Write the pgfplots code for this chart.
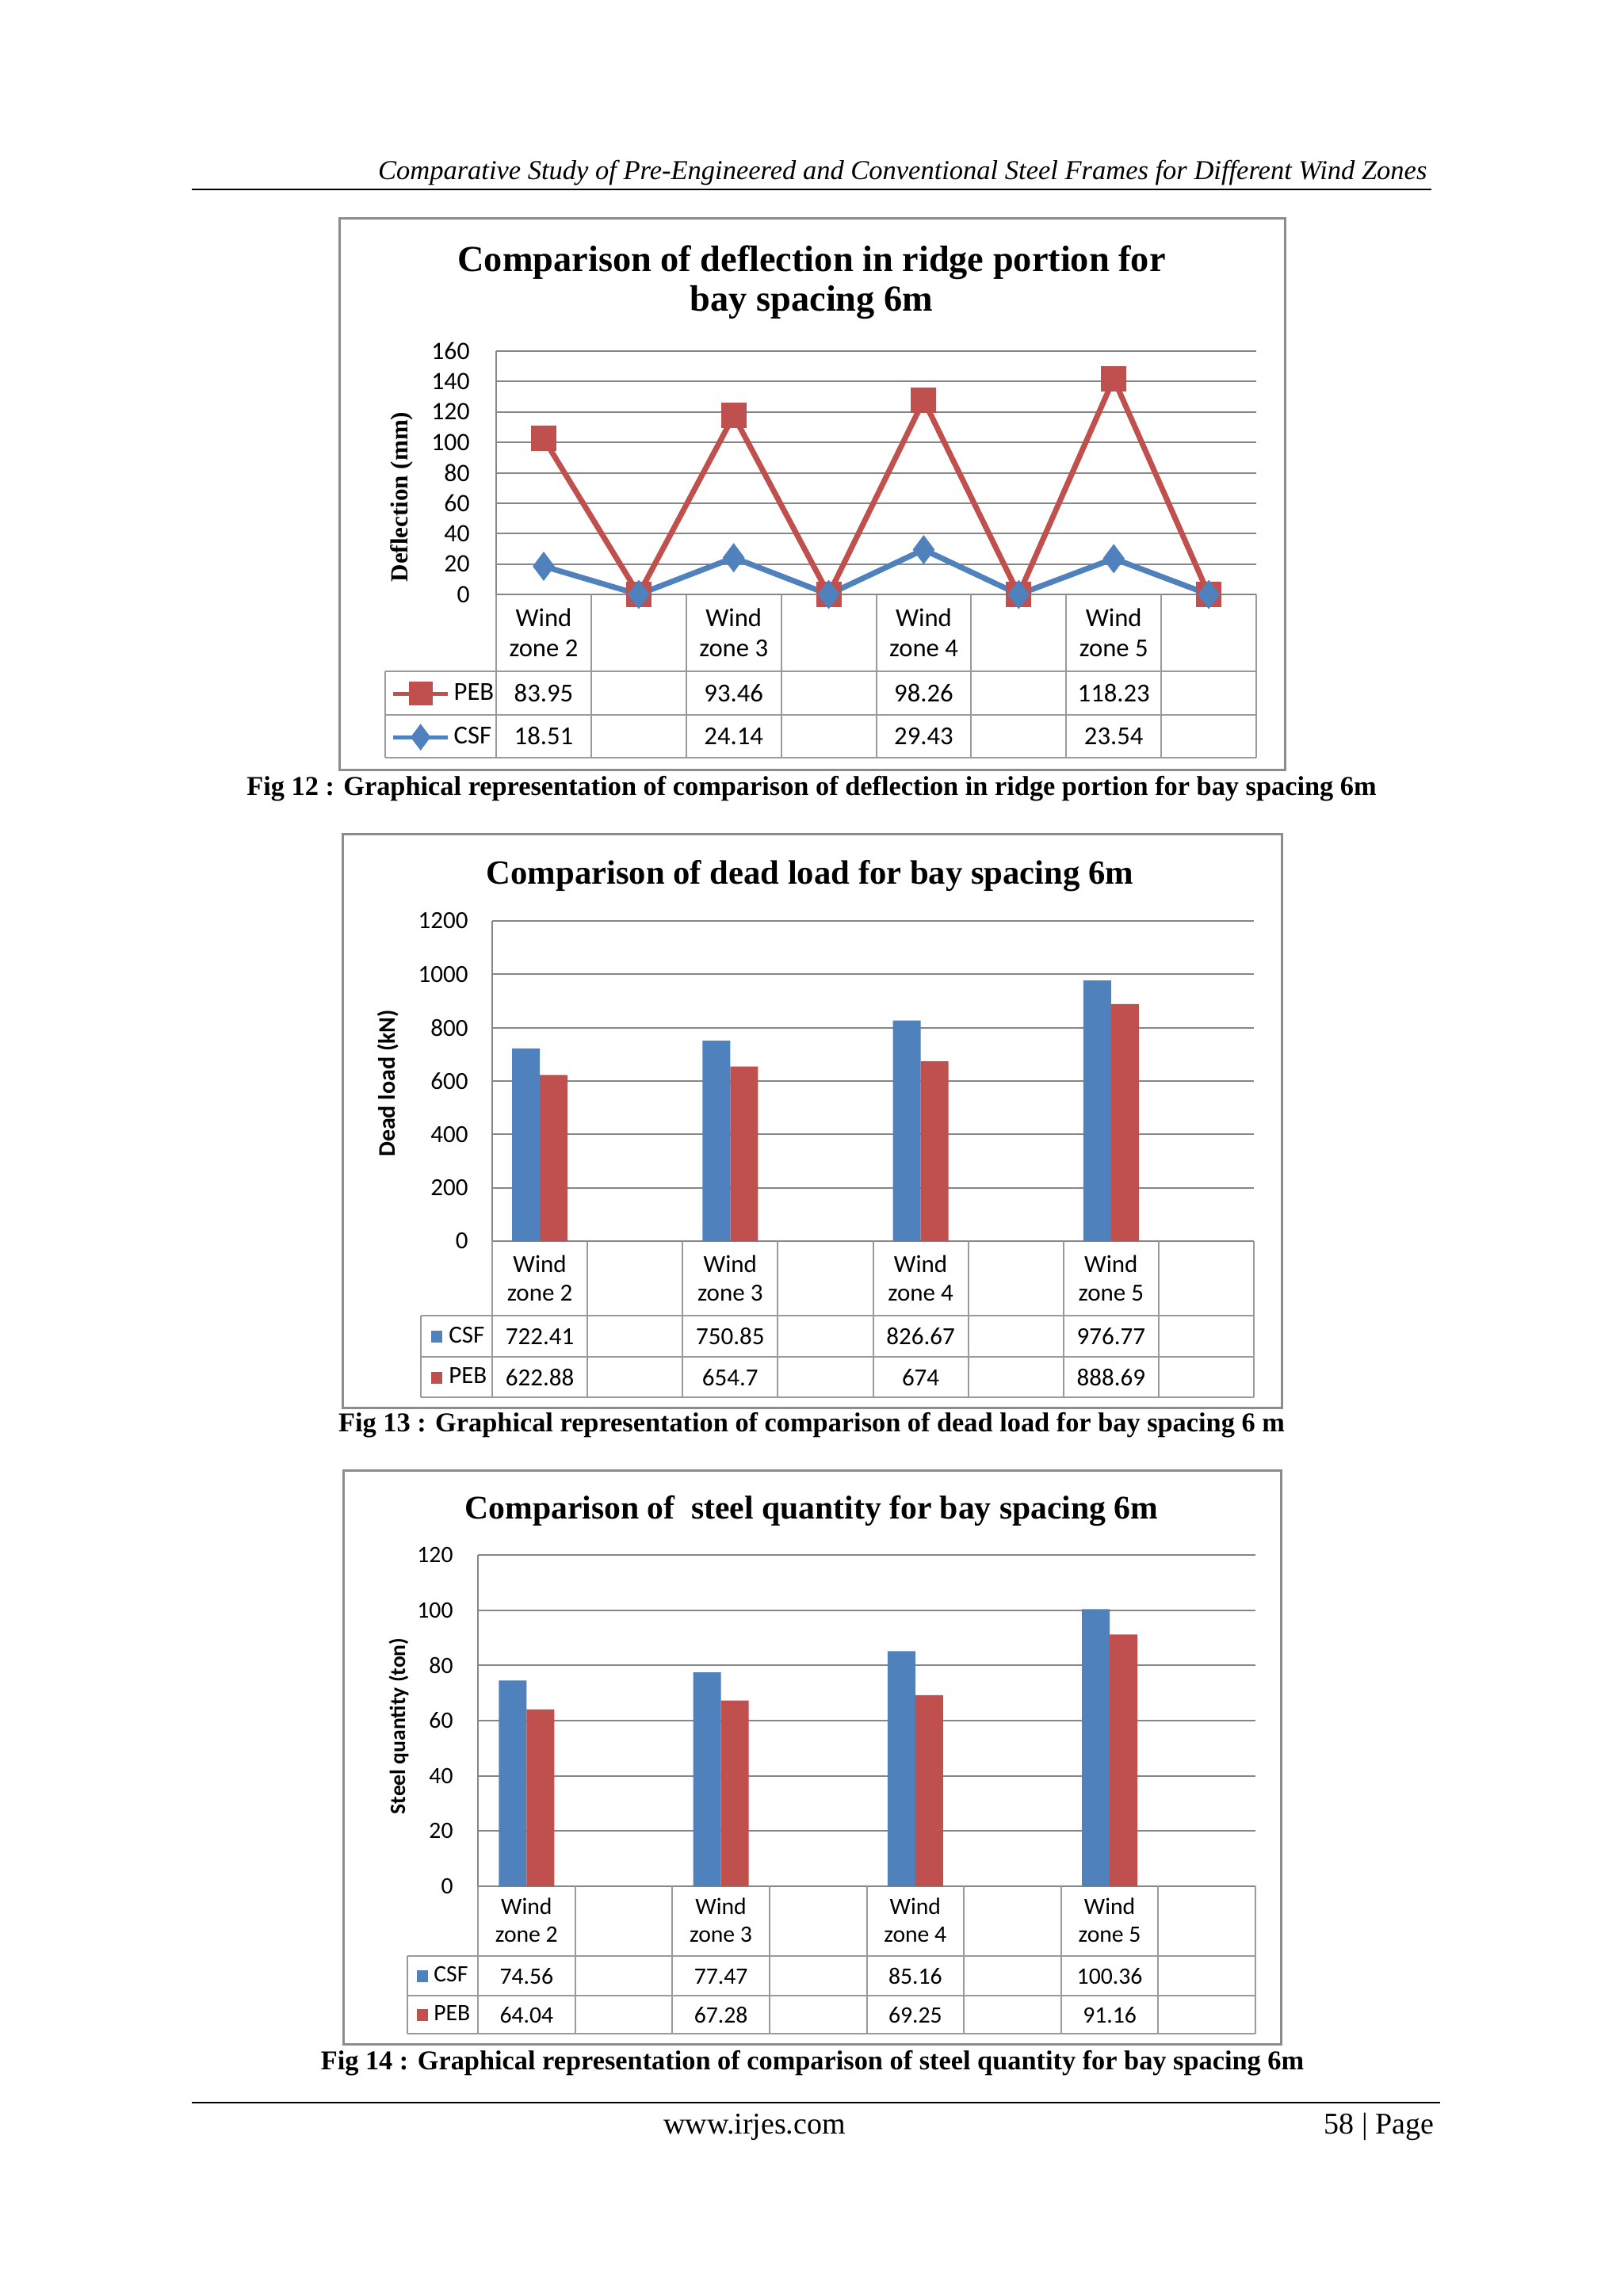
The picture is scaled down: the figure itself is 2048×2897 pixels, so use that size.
\documentclass[border=0pt]{standalone}
\usepackage{fontspec}
\setmainfont{Liberation Serif}
\newfontfamily\calibri{Carlito}
\usepackage{pgfplots}
\pgfplotsset{compat=1.18}
\definecolor{xlBlue}{HTML}{4F81BD}
\definecolor{xlRed}{HTML}{C0504D}
\definecolor{gridGray}{HTML}{868686}
\definecolor{boxGray}{HTML}{8C8C8C}
\definecolor{tabGray}{HTML}{9A9A9A}
\newcommand{\tabfontA}{\calibri\fontsize{9.8}{11}\selectfont}
\newcommand{\tabfontB}{\calibri\fontsize{9.3}{11}\selectfont}
\newcommand{\tabfontC}{\calibri\fontsize{8.9}{11}\selectfont}
\pgfplotsset{
  xlchart/.style={
    scale only axis, clip=false,
    xmin=-0.5, xmax=7.5, xtick=\empty,
    ymajorgrids, grid style={gridGray, line width=0.6pt},
    axis x line*=bottom, axis y line*=left,
    axis line style={gridGray, line width=0.6pt},
    major tick length=0pt,
    /pgf/number format/assume math mode=true,
    /pgf/number format/1000 sep={},
    legend style={draw=none, fill=none, inner sep=0pt, row sep=0pt, column sep=0pt,
      legend cell align=left},
  },
  barkey/.style={legend image code/.code={\fill[##1] (0pt,-2.2pt) rectangle (4.4pt,2.2pt);}},
}

\begin{document}
\begin{tikzpicture}[x=0.3pt,y=-0.3pt]
\path[use as bounding box, fill=white] (0,0) rectangle (2048,2897);

% running head
\node[anchor=base east, inner sep=0pt, font=\itshape\fontsize{10.35}{12}\selectfont] at (1801,227)
  {Comparative Study of Pre-Engineered and Conventional Steel Frames for Different Wind Zones};
\draw[line width=0.6pt] (242,239) -- (1806,239);

% ---------------- Fig 12 ----------------
\draw[boxGray, line width=0.9pt] (428,276) rectangle (1621,971);
\node[anchor=base, font=\bfseries\fontsize{13.9}{15}\selectfont] at (1024,343) {Comparison of deflection in ridge portion for};
\node[anchor=base, font=\bfseries\fontsize{13.9}{15}\selectfont] at (1024,393) {bay spacing 6m};
\node[rotate=90, font=\bfseries\fontsize{9.3}{11}\selectfont] at (507,627) {Deflection (mm)};
\coordinate (A) at (626,750);
\begin{axis}[xlchart, at={(A)}, anchor=south west, width=287.7pt, height=92.1pt,
  ymin=0, ymax=160, ytick={0,20,...,160}, yticklabel style={xshift=-6.5pt},
  tick label style={font=\calibri\fontsize{9.5}{11}\selectfont},
  stack plots=y, reverse legend,
  legend style={font=\tabfontA, at={(-0.1387,-0.316)}, anchor=north west, nodes={minimum height=16.5pt, inner sep=1.5pt}},
  legend image code/.code={\draw[mark repeat=2, mark phase=2, #1, line width=1.5pt]
    plot coordinates {(0pt,0pt) (10.35pt,0pt) (20.7pt,0pt)};}]
\addplot[xlBlue, line width=2.1pt, mark=diamond*, mark size=3.8pt, mark options={solid}]
  coordinates {(0,18.51) (1,0) (2,24.14) (3,0) (4,29.43) (5,0) (6,23.54) (7,0)};
\addplot[xlRed, line width=2.1pt, mark=square*, mark size=3.75pt, mark options={solid}]
  coordinates {(0,83.95) (1,0) (2,93.46) (3,0) (4,98.26) (5,0) (6,118.23) (7,0)};
\legend{CSF, PEB}
\end{axis}
\begin{scope}[tabGray, line width=0.6pt]
\foreach \i in {0,...,8} \draw ({626+\i*119.875},750) -- ({626+\i*119.875},956);
\foreach \yy in {847,902,956} \draw (486,\yy) -- (1585,\yy);
\draw (486,847) -- (486,956);
\end{scope}
\begin{scope}[every node/.style={anchor=base, font=\tabfontA, inner sep=0pt}]
\foreach \c/\z/\p/\s in {0/2/83.95/18.51, 2/3/93.46/24.14, 4/4/98.26/29.43, 6/5/118.23/23.54} {
  \node at ({626+(\c+0.5)*119.875},790) {Wind};
  \node at ({626+(\c+0.5)*119.875},828) {zone \z};
  \node at ({626+(\c+0.5)*119.875},885) {\p};
  \node at ({626+(\c+0.5)*119.875},939) {\s};
}
\end{scope}
\node[anchor=base, font=\bfseries\fontsize{10.3}{12}\selectfont] at (1024,1003)
  {Fig 12 : Graphical representation of comparison of deflection in ridge portion for bay spacing 6m};

% ---------------- Fig 13 ----------------
\draw[boxGray, line width=0.9pt] (432,1052) rectangle (1617,1776);
\node[anchor=base, font=\bfseries\fontsize{12.8}{15}\selectfont] at (1022,1115) {Comparison of dead load for bay spacing 6m};
\node[rotate=90, font=\calibri\bfseries\fontsize{9}{11}\selectfont] at (490,1367) {Dead load (kN)};
\coordinate (B) at (621,1566);
\begin{axis}[xlchart, at={(B)}, anchor=south west, width=288.3pt, height=121.2pt,
  ymin=0, ymax=1200, ytick={0,200,...,1200}, yticklabel style={xshift=-5.6pt},
  tick label style={font=\tabfontB},
  legend style={font=\tabfontB, at={(-0.0812,-0.2327)}, anchor=north west, nodes={minimum height=15.5pt, inner sep=2.4pt}}]
\addplot[ybar, bar width=10.5pt, bar shift=-5.25pt, fill=xlBlue, draw=none, barkey]
  coordinates {(0,722.41) (2,750.85) (4,826.67) (6,976.77)};
\addplot[ybar, bar width=10.5pt, bar shift=5.25pt, fill=xlRed, draw=none, barkey]
  coordinates {(0,622.88) (2,654.7) (4,674) (6,888.69)};
\legend{CSF, PEB}
\end{axis}
\begin{scope}[tabGray, line width=0.6pt]
\foreach \i in {0,...,8} \draw ({621+\i*120.125},1566) -- ({621+\i*120.125},1763);
\foreach \yy in {1660,1712,1763} \draw (531,\yy) -- (1582,\yy);
\draw (531,1660) -- (531,1763);
\end{scope}
\begin{scope}[every node/.style={anchor=base, font=\tabfontB, inner sep=0pt}]
\foreach \c/\z/\p/\s in {0/2/722.41/622.88, 2/3/750.85/654.7, 4/4/826.67/674, 6/5/976.77/888.69} {
  \node at ({621+(\c+0.5)*120.125},1605) {Wind};
  \node at ({621+(\c+0.5)*120.125},1641) {zone \z};
  \node at ({621+(\c+0.5)*120.125},1696) {\p};
  \node at ({621+(\c+0.5)*120.125},1748) {\s};
}
\end{scope}
\node[anchor=base, font=\bfseries\fontsize{10.3}{12}\selectfont] at (1024,1806)
  {Fig 13 : Graphical representation of comparison of dead load for bay spacing 6 m};

% ---------------- Fig 14 ----------------
\draw[boxGray, line width=0.9pt] (433,1855) rectangle (1616,2579);
\node[anchor=base, font=\bfseries\fontsize{12.5}{15}\selectfont] at (1024,1916) {Comparison of \ steel quantity for bay spacing 6m};
\node[rotate=90, font=\calibri\bfseries\fontsize{8.3}{10}\selectfont] at (503,2178) {Steel quantity (ton)};
\coordinate (C) at (603,2380);
\begin{axis}[xlchart, at={(C)}, anchor=south west, width=294.3pt, height=125.4pt,
  ymin=0, ymax=120, ytick={0,20,...,120}, yticklabel style={xshift=-5.9pt},
  tick label style={font=\tabfontC},
  legend style={font=\tabfontC, at={(-0.0795,-0.2105)}, anchor=north west, nodes={minimum height=14.7pt, inner sep=2.1pt}}]
\addplot[ybar, bar width=10.5pt, bar shift=-5.25pt, fill=xlBlue, draw=none, barkey]
  coordinates {(0,74.56) (2,77.47) (4,85.16) (6,100.36)};
\addplot[ybar, bar width=10.5pt, bar shift=5.25pt, fill=xlRed, draw=none, barkey]
  coordinates {(0,64.04) (2,67.28) (4,69.25) (6,91.16)};
\legend{CSF, PEB}
\end{axis}
\begin{scope}[tabGray, line width=0.6pt]
\foreach \i in {0,...,8} \draw ({603+\i*122.625},2380) -- ({603+\i*122.625},2566);
\foreach \yy in {2468,2518,2566} \draw (514,\yy) -- (1584,\yy);
\draw (514,2468) -- (514,2566);
\end{scope}
\begin{scope}[every node/.style={anchor=base, font=\tabfontC, inner sep=0pt}]
\foreach \c/\z/\p/\s in {0/2/74.56/64.04, 2/3/77.47/67.28, 4/4/85.16/69.25, 6/5/100.36/91.16} {
  \node at ({603+(\c+0.5)*122.625},2415) {Wind};
  \node at ({603+(\c+0.5)*122.625},2450) {zone \z};
  \node at ({603+(\c+0.5)*122.625},2503) {\p};
  \node at ({603+(\c+0.5)*122.625},2552) {\s};
}
\end{scope}
\node[anchor=base, font=\bfseries\fontsize{10.3}{12}\selectfont] at (1025,2611)
  {Fig 14 : Graphical representation of comparison of steel quantity for bay spacing 6m};

% footer
\draw[line width=0.6pt] (242,2653) -- (1817,2653);
\node[anchor=base, inner sep=0pt, font=\fontsize{11.4}{13}\selectfont] at (952,2692) {www.irjes.com};
\node[anchor=base east, inner sep=0pt, font=\fontsize{11.4}{13}\selectfont] at (1810,2692) {58 | Page};
\end{tikzpicture}
\end{document}
